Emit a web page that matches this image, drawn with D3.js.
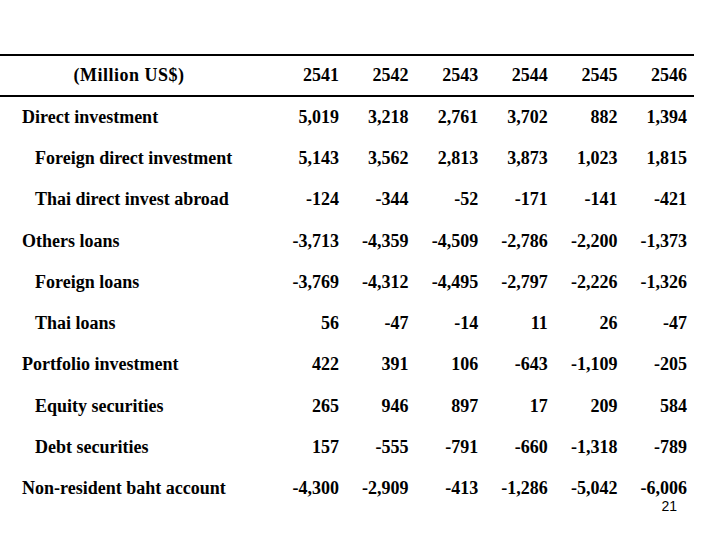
<!DOCTYPE html>
<html>
<head>
<meta charset="utf-8">
<script src="https://cdn.jsdelivr.net/npm/d3@7"></script>
<style>
  body { margin: 0; background: #fff; }
  #chart { width: 720px; height: 540px; }
  text { font-family: "Liberation Serif", "Times New Roman", serif; font-weight: bold; font-size: 18px; fill: #000; }
  .page { font-family: "Liberation Sans", Arial, sans-serif; font-weight: normal; font-size: 14px; }
</style>
</head>
<body>
<div id="chart"></div>
<script>

/* DATA: rows of the table, year columns, values (million US$) */
const years = ["2541", "2542", "2543", "2544", "2545", "2546"];

const rowLabels = [
    "Direct investment",
    "Foreign direct investment",
    "Thai direct invest abroad",
    "Others loans",
    "Foreign loans",
    "Thai loans",
    "Portfolio investment",
    "Equity securities",
    "Debt securities",
    "Non-resident baht account"
];

// 0 = main row, 1 = sub row (indented)
const rowLevel = [0, 1, 1, 0, 1, 1, 0, 1, 1, 0];

const directInvestment   = [5019, 3218, 2761, 3702, 882, 1394];
const foreignDirect      = [5143, 3562, 2813, 3873, 1023, 1815];
const thaiDirectAbroad   = [-124, -344, -52, -171, -141, -421];
const othersLoans        = [-3713, -4359, -4509, -2786, -2200, -1373];
const foreignLoans       = [-3769, -4312, -4495, -2797, -2226, -1326];
const thaiLoans          = [56, -47, -14, 11, 26, -47];
const portfolio          = [422, 391, 106, -643, -1109, -205];
const equitySecurities   = [265, 946, 897, 17, 209, 584];
const debtSecurities     = [157, -555, -791, -660, -1318, -789];
const nonResidentBaht    = [-4300, -2909, -413, -1286, -5042, -6006];

const values = [directInvestment, foreignDirect, thaiDirectAbroad, othersLoans,
    foreignLoans, thaiLoans, portfolio, equitySecurities, debtSecurities, nonResidentBaht];

const unitLabel = "(Million US$)";
const pageNumber = "21";

/* SVG CANVAS */
const width = 720;
const height = 540;
const svg = d3.select("#chart")
    .append("svg")
    .attr("width", width)
    .attr("height", height);

/* SCALES */
// right edge of each year column
const xScale = d3.scalePoint()
    .domain(years)
    .range([339, 687]);

// vertical centre of header + each data row
const yScale = d3.scalePoint()
    .domain(["header"].concat(rowLabels))
    .range([75, 488]);

const fmt = d3.format(",");

/* RULES */
svg.append("g")
    .selectAll("line")
    .data([55, 96])
    .enter()
    .append("line")
        .attr("x1", 0)
        .attr("x2", 694)
        .attr("y1", d => d)
        .attr("y2", d => d)
        .attr("stroke", "#000")
        .attr("stroke-width", 2);

/* HEADER */
svg.append("text")
    .attr("x", 129)
    .attr("y", yScale("header"))
    .attr("dy", "0.35em")
    .attr("text-anchor", "middle")
    .style("letter-spacing", "0.5px")
    .text(unitLabel);

svg.append("g")
    .selectAll("text")
    .data(years)
    .enter()
    .append("text")
        .attr("x", d => xScale(d))
        .attr("y", yScale("header"))
        .attr("dy", "0.35em")
        .attr("text-anchor", "end")
        .text(d => d);

/* ROW LABELS */
svg.append("g")
    .selectAll("text")
    .data(rowLabels)
    .enter()
    .append("text")
        .attr("x", (d, i) => rowLevel[i] === 0 ? 22 : 35)
        .attr("y", d => yScale(d))
        .attr("dy", "0.35em")
        .text(d => d);

/* CELLS */
rowLabels.forEach((label, i) => {
    svg.append("g")
        .selectAll("text")
        .data(values[i])
        .enter()
        .append("text")
            .attr("x", (d, j) => xScale(years[j]))
            .attr("y", yScale(label))
            .attr("dy", "0.35em")
            .attr("text-anchor", "end")
            .text(d => fmt(d).replace("−", "-"));
});

/* PAGE NUMBER */
svg.append("text")
    .attr("class", "page")
    .attr("x", 677)
    .attr("y", 511)
    .attr("text-anchor", "end")
    .text(pageNumber);

</script>
</body>
</html>
